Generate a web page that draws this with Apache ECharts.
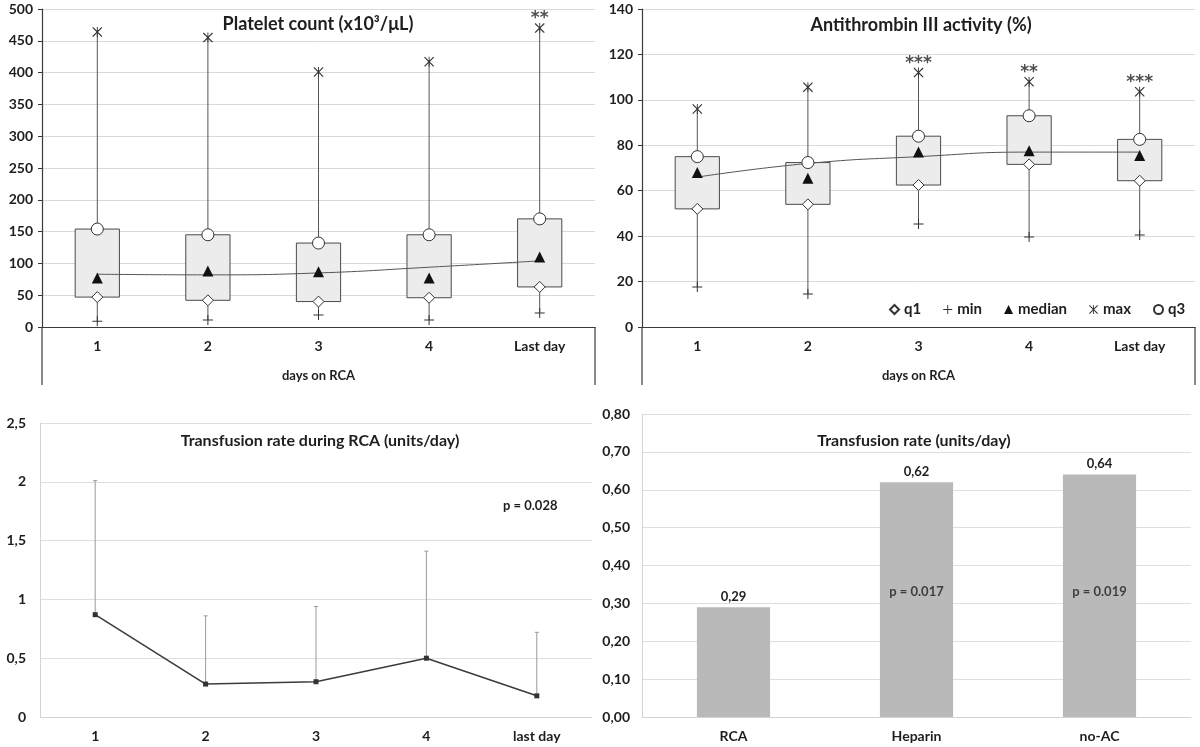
<!DOCTYPE html>
<html><head><meta charset="utf-8">
<script src="https://cdn.jsdelivr.net/npm/echarts@6/dist/echarts.min.js"></script>
<style>html,body{margin:0;padding:0;background:#fff}#c{width:1200px;height:747px}</style>
</head><body><div id="c"></div>
<script>
// ---------- data ----------
const days = ['1', '2', '3', '4', 'Last day'];
const pltMin = [9, 11, 19, 11, 22];
const pltQ1 = [47, 42, 40, 46, 63];
const pltMed = [77, 88, 87, 77, 110];
const pltQ3 = [154, 145, 132, 145, 170];
const pltMax = [464, 455, 401, 417, 470];
const pltTrend = [83, 82, 85, 94, 104];
const pltStars = ['', '', '', '', '**'];

const atMin = [17.6, 14.5, 45.4, 39.6, 40.5];
const atQ1 = [52, 54, 62.5, 71.6, 64.4];
const atMed = [68, 65.5, 77, 77.6, 75.5];
const atQ3 = [75, 72.4, 84, 93, 82.6];
const atMax = [96, 105.6, 112, 108, 103.6];
const atTrend = [66, 72, 75, 77, 77];
const atStars = ['', '', '***', '**', '***'];

const trDays = ['1', '2', '3', '4', 'last day'];
const trMean = [0.87, 0.28, 0.30, 0.50, 0.18];
const trUpper = [2.01, 0.86, 0.94, 1.41, 0.72];

const groups = ['RCA', 'Heparin', 'no-AC'];
const groupRate = [0.29, 0.62, 0.64];
const groupP = ['', 'p = 0.017', 'p = 0.019'];
// --------------------------

const FONT = 'Lato, "Open Sans", "Liberation Sans", sans-serif';
const TXT = '#1e1e1e';
const PLUS = 'path://M4.5,0h1v4.5h4.5v1h-4.5v4.5h-1v-4.5h-4.5v-1h4.5z';
const STAR = 'path://M0,0.8L0.8,0L5,4.2L9.2,0L10,0.8L5.8,5L10,9.2L9.2,10L5,5.8L0.8,10L0,9.2L4.2,5ZM4.55,0h0.9v10h-0.9z';

const chart = echarts.init(document.getElementById('c'));

function boxSeries(idx, mn, q1, q3, mx) {
  return {
    type: 'custom', xAxisIndex: idx, yAxisIndex: idx, z: 2, silent: true,
    data: days.map((d, i) => [i, mn[i], q1[i], q3[i], mx[i]]),
    renderItem(params, api) {
      const i = api.value(0);
      const pMin = api.coord([i, api.value(1)]);
      const pQ1 = api.coord([i, api.value(2)]);
      const pQ3 = api.coord([i, api.value(3)]);
      const pMax = api.coord([i, api.value(4)]);
      const bw = api.size([1, 0])[0] * 0.4;
      const x = pMin[0];
      return {
        type: 'group', children: [
          { type: 'line', shape: { x1: x, y1: pMin[1], x2: x, y2: pMax[1] }, style: { stroke: '#555', lineWidth: 1 } },
          { type: 'rect', shape: { x: x - bw / 2, y: pQ3[1], width: bw, height: pQ1[1] - pQ3[1] }, style: { fill: '#ececec', stroke: '#4a4a4a', lineWidth: 1 } }
        ]
      };
    }
  };
}
function markerSeries(idx, name, vals, symbol, size, fill, border) {
  return {
    type: 'scatter', name, xAxisIndex: idx, yAxisIndex: idx, z: 4,
    symbol, symbolSize: size, symbolKeepAspect: true,
    itemStyle: { color: fill, borderColor: border, borderWidth: border ? 1 : 0, opacity: 1 },
    data: vals.map((v, i) => [i, v])
  };
}
function starsSeries(idx, mx, stars) {
  return {
    type: 'scatter', xAxisIndex: idx, yAxisIndex: idx, symbolSize: 0, z: 5, silent: true,
    data: mx.map((v, i) => [i, v]),
    label: { show: true, position: 'top', distance: 1, formatter: p => stars[p.dataIndex],
      fontFamily: 'DejaVu Sans', fontWeight: 'bold', fontSize: 17, color: '#222', letterSpacing: 1 }
  };
}
function trendSeries(idx, vals) {
  return { type: 'line', xAxisIndex: idx, yAxisIndex: idx, z: 3, smooth: 0.5, showSymbol: false, silent: true,
    lineStyle: { color: '#555', width: 1 }, data: vals.map((v, i) => [i, v]) };
}
function topX(idx) {
  return {
    type: 'category', gridIndex: idx, data: days, boundaryGap: true,
    axisLine: { lineStyle: { color: '#3a3a3a', width: 1.2 } },
    axisTick: { interval: 0, length: 29, lineStyle: { color: '#3a3a3a', width: 1.2 } },
    axisLabel: { interval: 0, margin: 12, fontFamily: FONT, fontWeight: 'bold', fontSize: 14, color: TXT },
    name: 'days on RCA', nameLocation: 'middle', nameGap: 42,
    nameTextStyle: { fontFamily: FONT, fontWeight: 'bold', fontSize: 13, color: TXT }
  };
}
function topY(idx, max, interval) {
  return {
    type: 'value', gridIndex: idx, min: 0, max, interval,
    axisLine: { show: true, lineStyle: { color: '#3a3a3a', width: 1.2 } },
    axisTick: { show: true, length: 4, lineStyle: { color: '#3a3a3a' } },
    axisLabel: { margin: 9, fontFamily: FONT, fontWeight: 'bold', fontSize: 14, color: TXT },
    splitLine: { lineStyle: { color: '#d9d9d9', width: 1 } }
  };
}
const comma = d => v => v.toFixed(d).replace('.', ',');

const titleStyle = { fontFamily: FONT, fontWeight: 'bold', fontSize: 18, color: TXT };
const subTitleStyle = { fontFamily: FONT, fontWeight: 'bold', fontSize: 16, color: TXT };

const option = {
  backgroundColor: '#fff',
  animation: false,
  title: [
    { text: 'Platelet count (x10³/μL)', left: 313, top: 10, textAlign: 'center', textStyle: titleStyle },
    { text: 'Antithrombin III activity (%)', left: 916, top: 11, textAlign: 'center', textStyle: titleStyle },
    { text: 'Transfusion rate during RCA (units/day)', left: 315, top: 428, textAlign: 'center', textStyle: subTitleStyle },
    { text: 'Transfusion rate (units/day)', left: 909, top: 428, textAlign: 'center', textStyle: subTitleStyle }
  ],
  legend: {
    left: 884, top: 297, itemGap: 22, itemWidth: 9, itemHeight: 9,
    textStyle: { fontFamily: FONT, fontWeight: 'bold', fontSize: 15, color: TXT },
    selectedMode: false,
    data: [
      { name: 'q1', icon: 'diamond' },
      { name: 'min', icon: PLUS },
      { name: 'median', icon: 'triangle' },
      { name: 'max', icon: STAR },
      { name: 'q3', icon: 'circle' }
    ]
  },
  grid: [
    { left: 42, top: 9, width: 553, height: 318 },
    { left: 642, top: 9, width: 553, height: 318 },
    { left: 40, top: 423, width: 552, height: 294 },
    { left: 642, top: 414, width: 549, height: 303 }
  ],
  xAxis: [
    topX(0), topX(1),
    { type: 'category', gridIndex: 2, data: trDays, boundaryGap: true,
      axisLine: { lineStyle: { color: '#d4d4d4' } },
      axisTick: { interval: 0, length: 4, lineStyle: { color: '#d4d4d4' } },
      axisLabel: { interval: 0, margin: 12, fontFamily: FONT, fontWeight: 'bold', fontSize: 14, color: TXT } },
    { type: 'category', gridIndex: 3, data: groups, boundaryGap: true,
      axisLine: { lineStyle: { color: '#d4d4d4' } },
      axisTick: { interval: 0, length: 4, lineStyle: { color: '#d4d4d4' } },
      axisLabel: { interval: 0, margin: 12, fontFamily: FONT, fontWeight: 'bold', fontSize: 14, color: TXT } }
  ],
  yAxis: [
    topY(0, 500, 50), topY(1, 140, 20),
    { type: 'value', gridIndex: 2, min: 0, max: 2.5, interval: 0.5,
      axisLine: { show: true, lineStyle: { color: '#d4d4d4' } }, axisTick: { show: false },
      axisLabel: { margin: 14, formatter: v => String(v).replace('.', ','), fontFamily: FONT, fontWeight: 'bold', fontSize: 14, color: TXT },
      splitLine: { lineStyle: { color: '#dedede' } } },
    { type: 'value', gridIndex: 3, min: 0, max: 0.8, interval: 0.1,
      axisLine: { show: true, lineStyle: { color: '#d4d4d4' } }, axisTick: { show: false },
      axisLabel: { margin: 12, formatter: comma(2), fontFamily: FONT, fontWeight: 'bold', fontSize: 14, color: TXT },
      splitLine: { lineStyle: { color: '#dedede' } } }
  ],
  series: [
    // platelet
    boxSeries(0, pltMin, pltQ1, pltQ3, pltMax),
    trendSeries(0, pltTrend),
    markerSeries(0, 'q1', pltQ1, 'diamond', 11, '#fff', '#333'),
    markerSeries(0, 'min', pltMin, PLUS, 10, '#333', null),
    markerSeries(0, 'median', pltMed, 'triangle', 11, '#111', null),
    markerSeries(0, 'max', pltMax, STAR, 10, '#333', null),
    markerSeries(0, 'q3', pltQ3, 'circle', 12, '#fff', '#333'),
    starsSeries(0, pltMax, pltStars),
    // antithrombin
    boxSeries(1, atMin, atQ1, atQ3, atMax),
    trendSeries(1, atTrend),
    markerSeries(1, 'q1', atQ1, 'diamond', 11, '#fff', '#333'),
    markerSeries(1, 'min', atMin, PLUS, 10, '#333', null),
    markerSeries(1, 'median', atMed, 'triangle', 11, '#111', null),
    markerSeries(1, 'max', atMax, STAR, 10, '#333', null),
    markerSeries(1, 'q3', atQ3, 'circle', 12, '#fff', '#333'),
    starsSeries(1, atMax, atStars),
    // transfusion rate line with error bars
    { type: 'custom', xAxisIndex: 2, yAxisIndex: 2, z: 2, silent: true,
      data: trMean.map((v, i) => [i, v, trUpper[i]]),
      renderItem(params, api) {
        const lo = api.coord([api.value(0), api.value(1)]);
        const hi = api.coord([api.value(0), api.value(2)]);
        return { type: 'group', children: [
          { type: 'line', shape: { x1: lo[0], y1: lo[1], x2: hi[0], y2: hi[1] }, style: { stroke: '#9a9a9a', lineWidth: 1 } },
          { type: 'line', shape: { x1: hi[0] - 2, y1: hi[1], x2: hi[0] + 2, y2: hi[1] }, style: { stroke: '#9a9a9a', lineWidth: 1 } }
        ] };
      } },
    { type: 'line', xAxisIndex: 2, yAxisIndex: 2, z: 3, data: trMean, symbol: 'rect', symbolSize: 5,
      itemStyle: { color: '#333' }, lineStyle: { color: '#3c3c3c', width: 1.6 } },
    // bars
    { type: 'bar', xAxisIndex: 3, yAxisIndex: 3, data: groupRate, barWidth: '40%',
      itemStyle: { color: '#b9b9b9' },
      label: { show: true, position: 'top', distance: 4, formatter: p => comma(2)(p.value),
        fontFamily: FONT, fontWeight: 'bold', fontSize: 13, color: TXT } },
    { type: 'scatter', xAxisIndex: 3, yAxisIndex: 3, symbolSize: 0, z: 5, silent: true,
      data: groupP.map((t, i) => [i, 0.33]),
      label: { show: true, position: 'inside', formatter: p => groupP[p.dataIndex],
        fontFamily: FONT, fontWeight: 'bold', fontSize: 13, color: TXT } }
  ],
  graphic: [
    { type: 'line', shape: { x1: 42, y1: 327, x2: 42, y2: 385 }, style: { stroke: '#3a3a3a', lineWidth: 1.2 } },
    { type: 'line', shape: { x1: 595, y1: 327, x2: 595, y2: 385 }, style: { stroke: '#3a3a3a', lineWidth: 1.2 } },
    { type: 'line', shape: { x1: 642, y1: 327, x2: 642, y2: 385 }, style: { stroke: '#3a3a3a', lineWidth: 1.2 } },
    { type: 'line', shape: { x1: 1195, y1: 327, x2: 1195, y2: 385 }, style: { stroke: '#3a3a3a', lineWidth: 1.2 } },
    { type: 'text', left: 503, top: 499, style: { text: 'p = 0.028', fontFamily: FONT, fontWeight: 'bold', fontSize: 13, fill: TXT } }
  ]
};
chart.setOption(option);
</script></body></html>
